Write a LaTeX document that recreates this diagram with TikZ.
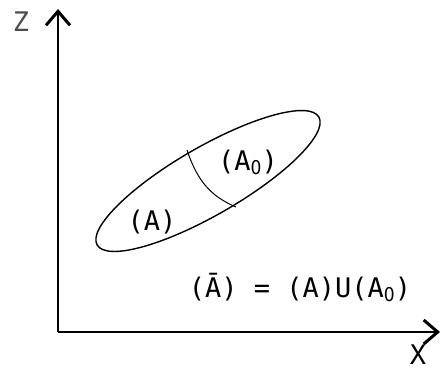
\documentclass[tikz,border=0pt]{standalone}
\usepackage{fontspec}
\newfontfamily\plotfont{DejaVu Sans Mono}
\newfontfamily\subfont{DejaVu Sans Condensed}
\usetikzlibrary{arrows.meta}
\newcommand\subzero{\raisebox{-4pt}{\subfont\fontsize{19}{19}\selectfont 0}}
\tikzset{
  lbl/.style={inner sep=0pt, font=\plotfont\fontsize{27}{27}\selectfont},
  axis/.style={line width=1.6pt, -{Straight Barb[length=14pt,width=24pt,line width=3pt]}},
  outline/.style={line width=1.4pt},
  divider/.style={line width=1pt}
}
\begin{document}
\begin{tikzpicture}[x=1pt,y=-1pt]
\useasboundingbox (0,0) rectangle (441,370);
% axes
\coordinate (O) at (58,332);
\coordinate (ztip) at (58,9);
\coordinate (xtip) at (440,332);
\draw[axis] (O) -- (ztip);
\draw[axis] (O) -- (xtip);
\node[lbl, text=black!70] (zl) at (21,22) {Z};
\node[lbl] (xl) at (418,355) {X};
% ellipse
\coordinate (c) at (208,181);
\draw[outline, rotate around={30:(c)}] (c) ellipse [x radius=128pt, y radius=34pt];
% divider
\coordinate (d1) at (187,150);
\coordinate (d2) at (236,207);
\draw[divider] (d1) .. controls (197,180) and (210,196) .. (d2);
% labels
\node[lbl] (a) at (152,222) {(A)};
\node[lbl] (a0) at (248,162) {(A\subzero)};
\node[lbl] (eq) at (300,287) {(Ā) = (A)U(A\subzero)};
\end{tikzpicture}
\end{document}
